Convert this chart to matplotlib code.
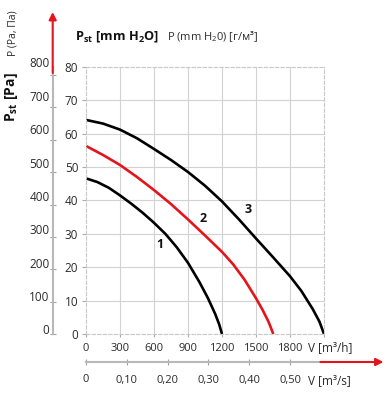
import matplotlib
matplotlib.use("Agg")
import matplotlib.pyplot as plt
from matplotlib.transforms import blended_transform_factory, offset_copy

plt.rcParams['font.family'] = ['Open Sans', 'DejaVu Sans']
plt.rcParams['mathtext.fontset'] = 'custom'
plt.rcParams['mathtext.rm'] = 'Open Sans'
plt.rcParams['mathtext.bf'] = 'Open Sans:bold'
plt.rcParams['mathtext.it'] = 'Open Sans:italic'

# airflow [m3/h] and static pressure [mm H2O]
curve1_v = [0, 100, 200, 300, 400, 500, 600, 700, 800, 900, 1000, 1075, 1140, 1175, 1200]
curve1_p = [46.6, 45.5, 43.8, 41.5, 39.0, 36.3, 33.3, 30.0, 26.0, 21.3, 15.6, 10.8, 6.0, 2.9, 0]

curve2_v = [0, 150, 300, 450, 600, 750, 900, 1050, 1200, 1300, 1400, 1500, 1560, 1610, 1653]
curve2_p = [56.3, 53.6, 50.6, 47.0, 43.1, 38.9, 34.3, 29.5, 24.6, 20.8, 16.2, 10.7, 7.1, 3.7, 0]

curve3_v = [0, 150, 300, 450, 600, 750, 900, 1050, 1200, 1350, 1500, 1650, 1800, 1900, 2000,
            2060, 2100]
curve3_p = [64.1, 63.0, 61.2, 58.6, 55.4, 52.1, 48.5, 44.4, 39.7, 34.3, 28.6, 23.0, 17.3, 12.9,
            7.5, 3.7, 0]

curve_names = ['1', '2', '3']
curve_label_v = [653, 1035, 1432]
curve_label_p = [26.9, 34.6, 37.3]

v_h_ticks = [0, 300, 600, 900, 1200, 1500, 1800]
v_s_ticks = [0, 0.10, 0.20, 0.30, 0.40, 0.50]
p_mm_ticks = [0, 10, 20, 30, 40, 50, 60, 70, 80]
p_pa_ticks = [0, 100, 200, 300, 400, 500, 600, 700, 800]

RED = '#e3151b'
AXGRAY = '#b8b8b8'
TXT = '#2b2b2b'

W, H = 386, 396
fig = plt.figure(figsize=(W / 100, H / 100), dpi=100)
ax = fig.add_axes([86 / W, 1 - 334 / H, 238 / W, 267.2 / H])
ax.set_xlim(0, 2100)
ax.set_ylim(0, 80)

for cv, cp, col in [(curve1_v, curve1_p, 'black'), (curve2_v, curve2_p, RED),
                    (curve3_v, curve3_p, 'black')]:
    ax.plot(cv, cp, color=col, lw=1.9, solid_capstyle='butt', solid_joinstyle='round')
for name, lv, lp in zip(curve_names, curve_label_v, curve_label_p):
    ax.text(lv, lp, name, fontsize=9, fontweight='bold', color='#111111',
            ha='center', va='center')

# grid + dashed frame
ax.set_xticks(v_h_ticks + [2100])
ax.set_xticklabels([str(t) for t in v_h_ticks] + [''])
ax.set_yticks(p_mm_ticks)
ax.grid(True, color='#d2d2d2', lw=0.8)
ax.set_axisbelow(True)
ax.xaxis.get_gridlines()[0].set_visible(False)
ax.xaxis.get_gridlines()[-1].set_visible(False)
ax.yaxis.get_gridlines()[0].set_visible(False)
ax.yaxis.get_gridlines()[-1].set_visible(False)
for sp in ax.spines.values():
    sp.set_color('#c8c8c8')
    sp.set_linewidth(0.8)
    sp.set_linestyle((0, (3, 2)))
ax.tick_params(axis='y', length=3, width=0.8, color='#aaaaaa', pad=2.5,
               labelsize=8.5, labelcolor=TXT)
ax.tick_params(axis='x', length=2.5, width=0.8, color='#aaaaaa', pad=4,
               labelsize=8, labelcolor=TXT)

# Pa axis on the left
pa_loc = (52.7 - 86) / 238
sec_y = ax.secondary_yaxis(pa_loc, functions=(lambda v: v * 10.32, lambda p: p / 10.32))
sec_y.set_yticks(p_pa_ticks)
sec_y.tick_params(axis='y', direction='inout', length=4, width=0.8, color='#a0a0a0',
                  labelleft=False)
sec_y.spines['left'].set_color(AXGRAY)
sec_y.spines['left'].set_linewidth(1.5)
pa_trans = offset_copy(blended_transform_factory(ax.transAxes, ax.transData),
                       fig=fig, y=3, units='dots')
for p in p_pa_ticks:
    ax.text((49.5 - 86) / 238, p / 10, str(p), transform=pa_trans, ha='right',
            va='center', fontsize=8.5, color=TXT, clip_on=False)
ax.annotate('', xy=(pa_loc, (334 - 12) / 267.2), xytext=(pa_loc, (334 - 73) / 267.2),
            xycoords='axes fraction', textcoords='axes fraction', annotation_clip=False,
            arrowprops=dict(arrowstyle='-|>', color=RED, lw=1.5, mutation_scale=11,
                            shrinkA=0, shrinkB=0))

# m3/s axis below
sx_loc = (334 - 362) / 267.2
sec_x = ax.secondary_xaxis(sx_loc, functions=(lambda v: v / 3600, lambda s: s * 3600))
sec_x.set_xticks(v_s_ticks)
sec_x.set_xticklabels(['0'] + [f'{t:.2f}'.replace('.', ',') for t in v_s_ticks[1:]])
sec_x.tick_params(axis='x', direction='inout', length=4, width=0.8, color='#a0a0a0',
                  pad=7, labelsize=8, labelcolor=TXT)
sec_x.spines['bottom'].set_color(AXGRAY)
sec_x.spines['bottom'].set_linewidth(1.5)
ax.annotate('', xy=(1.25, sx_loc), xytext=(0.985, sx_loc),
            xycoords='axes fraction', textcoords='axes fraction', annotation_clip=False,
            arrowprops=dict(arrowstyle='-|>', color=RED, lw=1.5, mutation_scale=11,
                            shrinkA=0, shrinkB=0))

xt = blended_transform_factory(ax.transData, ax.transAxes)
ax.text(1960, (334 - 348) / 267.2, 'V [m³/h]', transform=xt, ha='left', va='center',
        fontsize=8.5, color=TXT, clip_on=False)
ax.text(1960, (334 - 381) / 267.2, 'V [m³/s]', transform=xt, ha='left', va='center',
        fontsize=8.5, color=TXT, clip_on=False)

# titles
fig.text(75 / W, 1 - 37 / H, r'$\mathbf{P_{st}\ [mm\ H_2O]}$', ha='left', va='center',
         fontsize=9.2, color='#111111')
fig.text(167 / W, 1 - 37 / H, r'P (mm H$_2$0) [г/м³]', ha='left', va='center',
         fontsize=8, color=TXT)
fig.text(11 / W, 1 - 97 / H, r'$\mathbf{P_{st}\ [Pa]}$', rotation=90, ha='center',
         va='center', fontsize=10, color='#111111')
fig.text(13 / W, 1 - 33 / H, 'P (Pa, Па)', rotation=90, ha='center', va='center',
         fontsize=7.5, color=TXT)

fig.savefig('out.png', dpi=100)
